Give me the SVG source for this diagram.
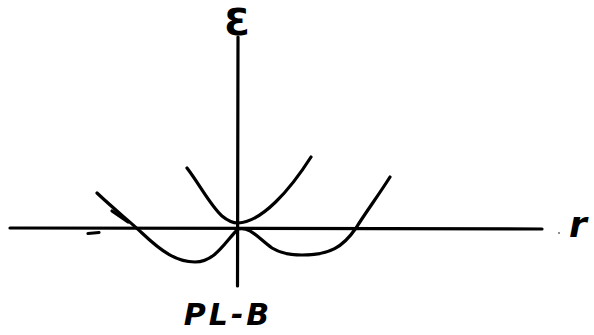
<svg xmlns="http://www.w3.org/2000/svg" width="594" height="335" viewBox="0 0 594 335">
<style>
.ln{fill:none;stroke:#000;stroke-width:3.2;stroke-linecap:round;stroke-linejoin:round}
.lbl{font-family:"DejaVu Sans","Liberation Sans",sans-serif;fill:#000}
</style>
<rect width="594" height="335" fill="#fff"/>
<g id="axes">
<line class="ln" x1="10" y1="228" x2="542" y2="229" stroke-width="2.8"/>
<line class="ln" x1="238" y1="37" x2="237.5" y2="286" stroke-width="2.8"/>
<line class="ln" x1="88" y1="233.5" x2="99" y2="232.5" stroke-width="1.6"/>
<circle cx="559" cy="233" r="0.8" fill="#000"/>
</g>
<g id="curves">
<path class="ln" d="M187,168 C200,185 210,205 222,216 C228,221 232,223 238,223 C262,222 290,190 311,157"/>
<path class="ln" d="M97,193 C115,210 128,220 142,233 C162,252 177,262 195,262 C215,262 225,242 238,229 C250,226 258,238 272,248 C282,254 292,255 302,255 C330,255 343,247 356,228 C366,212 380,193 390,177"/>
<path class="ln" d="M112,211 L128,222" stroke-width="6"/>
</g>
<g id="labels">
<text class="lbl" x="237" y="35" font-size="37" font-weight="bold" text-anchor="middle">Ɛ</text>
<text class="lbl" x="578" y="237" font-size="36" font-style="italic" font-weight="bold" text-anchor="middle">r</text>
<text class="lbl" x="228" y="325" font-size="30" font-style="italic" font-weight="bold" text-anchor="middle" letter-spacing="3">PL-B</text>
</g>
</svg>
